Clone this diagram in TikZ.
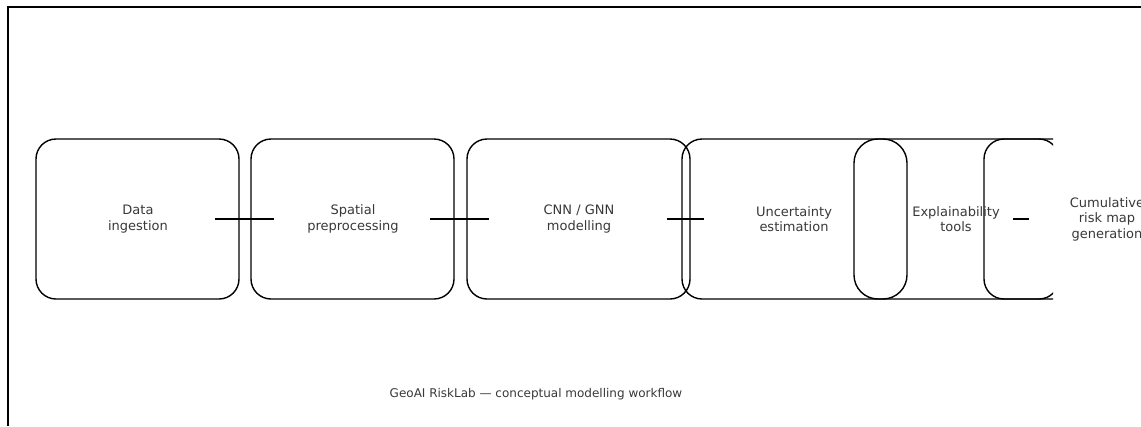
\documentclass[tikz,border=0pt]{standalone}
\usepackage{fontspec}
\setmainfont{DejaVu Sans}
\definecolor{txtgrey}{HTML}{383838}
\begin{document}
\begin{tikzpicture}[x=1pt,y=-1pt,
  box/.style={draw=black, line width=1.4pt, rounded corners=20pt, inner sep=0pt, minimum height=160pt},
  lbl/.style={text=txtgrey, font=\fontsize{13}{15.5}\selectfont, align=center, inner sep=0pt},
  captext/.style={text=txtgrey, font=\fontsize{12}{14}\selectfont, inner sep=0pt},
  conn/.style={draw=black, line width=1.4pt},
  framestyle/.style={draw=black, line width=2pt}]
\useasboundingbox (0,0) rectangle (1141,426);
\draw[framestyle] (8,426) -- (8,7) -- (1141,7);
\begin{scope}
\clip (0,0) rectangle (1053,426);
\node[box, minimum width=203pt] (b1) at (137.5,219) {};
\node[box, minimum width=203pt] (b2) at (352.5,219) {};
\node[box, minimum width=223pt] (b3) at (578.5,219) {};
\node[box, minimum width=420pt] (b4) at (892,219) {};
\node[box, minimum width=53pt, rounded corners=24pt] (b5) at (880.5,219) {};
\node[box, minimum width=75pt] (b6) at (1021.5,219) {};
\end{scope}
\node[lbl] (t1) at (138,219) {Data\\ingestion};
\node[lbl] (t2) at (353,219) {Spatial\\preprocessing};
\node[lbl] (t3) at (579,219) {CNN / GNN\\modelling};
\node[lbl] (t4) at (794,219) {Uncertainty\\estimation};
\node[lbl] (t5) at (956,219) {Explainability\\tools};
\node[lbl] (t6) at (1107,219) {Cumulative\\risk map\\generation};
\coordinate (c1a) at (215,219);
\coordinate (c1b) at (274,219);
\coordinate (c2a) at (430,219);
\coordinate (c2b) at (489,219);
\coordinate (c3a) at (667,219);
\coordinate (c3b) at (704,219);
\coordinate (c4a) at (1013,219);
\coordinate (c4b) at (1029,219);
\draw[conn] (c1a) -- (c1b);
\draw[conn] (c2a) -- (c2b);
\draw[conn] (c3a) -- (c3b);
\draw[conn] (c4a) -- (c4b);
\node[captext] (caption) at (536,394) {GeoAI RiskLab — conceptual modelling workflow};
\end{tikzpicture}
\end{document}
